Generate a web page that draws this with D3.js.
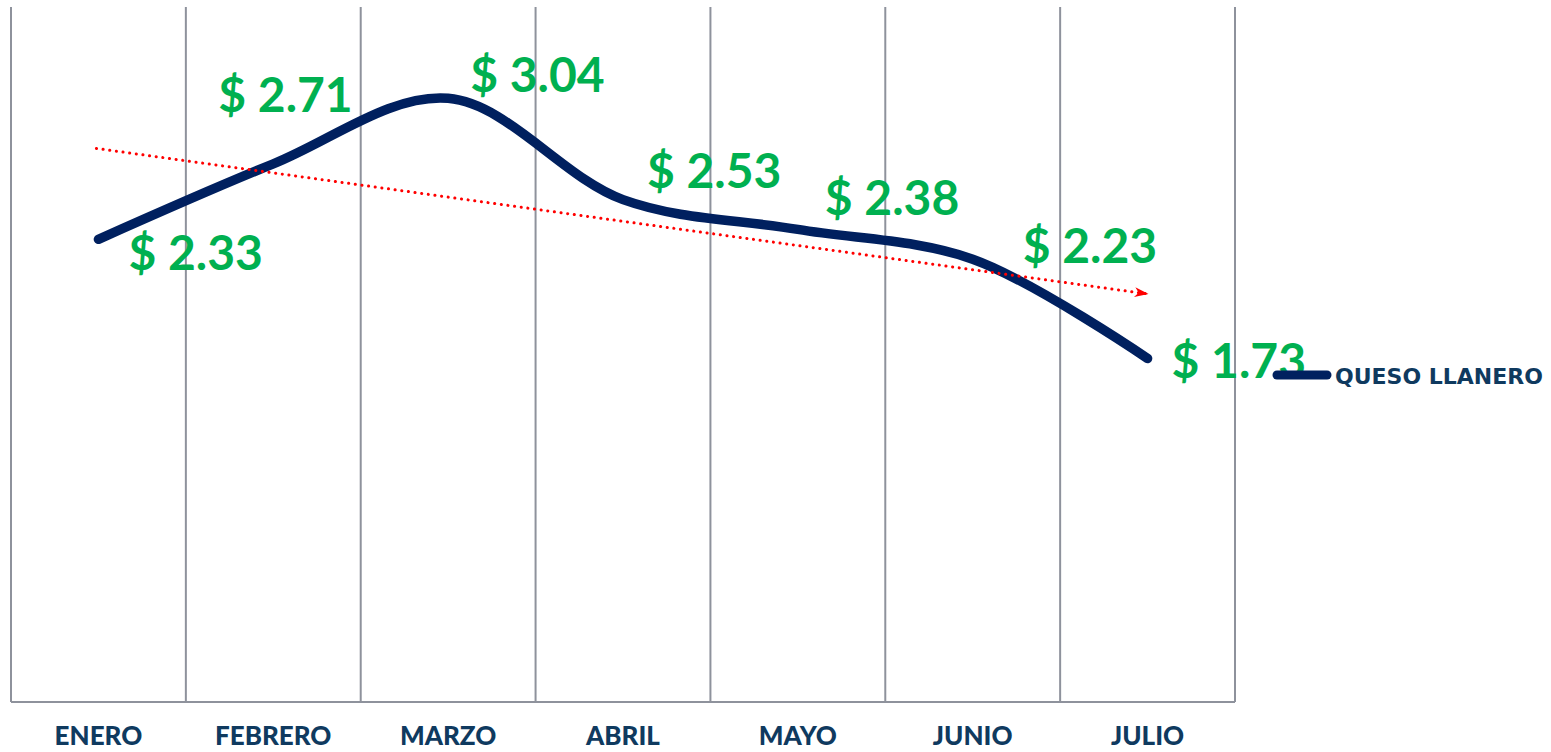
<!DOCTYPE html>
<html>
<head>
<meta charset="utf-8">
<script src="https://cdn.jsdelivr.net/npm/d3@7"></script>
<style>
  body { margin: 0; background: #fff; }
  svg { display: block; }
</style>
</head>
<body>
<svg></svg>
<script>
(function quesoChart() {
  // data
  const months = ["ENERO", "FEBRERO", "MARZO", "ABRIL", "MAYO", "JUNIO", "JULIO"];
  const prices = [2.33, 2.71, 3.04, 2.53, 2.38, 2.23, 1.73];
  const seriesName = "QUESO LLANERO";
  // where each value label sits, relative to its point
  const labelOffsets = [[30, 31], [-55, -52], [22, -6], [24, -12], [27, -14], [50, 4], [24, 20]];

  const W = 1551, H = 752;
  const svg = d3.select("svg").attr("width", W).attr("height", H);

  const x = d3.scaleBand().domain(months).range([11, 1235]);
  const y = d3.scaleLinear().domain([0, 3.5]).range([702, 7]);
  const cx = d => x(d) + x.bandwidth() / 2;

  // grid lines (category borders)
  const edges = months.map(m => x(m)).concat([x.range()[1]]);
  svg.append("g")
      .selectAll("line")
      .data(edges)
      .join("line")
      .attr("x1", d => d).attr("x2", d => d)
      .attr("y1", y(3.5)).attr("y2", y(0))
      .attr("stroke", "#8e929c")
      .attr("stroke-width", 2);
  svg.append("line")
      .attr("x1", 11).attr("x2", 1235)
      .attr("y1", y(0)).attr("y2", y(0))
      .attr("stroke", "#8e929c")
      .attr("stroke-width", 2);

  // month labels
  svg.append("g")
      .selectAll("text")
      .data(months)
      .join("text")
      .attr("x", d => cx(d))
      .attr("y", 745)
      .attr("text-anchor", "middle")
      .style("font-family", "Lato")
      .style("font-weight", "900")
      .style("font-size", "26px")
      .style("fill", "#0f3a5f")
      .text(d => d);

  const pts = months.map((m, i) => [cx(m), y(prices[i])]);

  // linear trend line
  const n = prices.length;
  const mx = d3.mean(d3.range(n)), my = d3.mean(prices);
  const slope = d3.sum(prices, (v, i) => (i - mx) * (v - my)) / d3.sum(d3.range(n), i => (i - mx) * (i - mx));
  const trend = i => my + slope * (i - mx);

  svg.append("defs").append("marker")
      .attr("id", "arrow")
      .attr("viewBox", "0 0 14 10")
      .attr("refX", 13).attr("refY", 5)
      .attr("markerWidth", 14).attr("markerHeight", 10)
      .attr("markerUnits", "userSpaceOnUse")
      .attr("orient", "auto")
      .append("path")
      .attr("d", "M0,0 L14,5 L0,10 L4,5 Z")
      .attr("fill", "#ff0000");

  // the series line
  svg.append("path")
      .datum(pts)
      .attr("d", d3.line().curve(d3.curveCatmullRom.alpha(0.5)))
      .attr("fill", "none")
      .attr("stroke", "#00205f")
      .attr("stroke-width", 9.5)
      .attr("stroke-linecap", "round")
      .attr("stroke-linejoin", "round");

  svg.append("line")
      .attr("x1", cx(months[0]) - 2).attr("y1", y(trend(0)))
      .attr("x2", cx(months[n - 1])).attr("y2", y(trend(n - 1)))
      .attr("stroke", "#ff0000")
      .attr("stroke-width", 3)
      .attr("stroke-linecap", "round")
      .attr("stroke-dasharray", "0.1,6.6")
      .attr("marker-end", "url(#arrow)");

  // value labels
  svg.append("g")
      .selectAll("text")
      .data(prices)
      .join("text")
      .attr("x", (d, i) => pts[i][0] + labelOffsets[i][0])
      .attr("y", (d, i) => pts[i][1] + labelOffsets[i][1])
      .style("font-family", "Lato")
      .style("font-weight", "700")
      .style("font-size", "48px")
      .style("fill", "#00b050")
      .text(d => "$ " + d.toFixed(2));

  // legend
  svg.append("line")
      .attr("x1", 1277).attr("x2", 1327)
      .attr("y1", 375).attr("y2", 375)
      .attr("stroke", "#00205f")
      .attr("stroke-width", 9)
      .attr("stroke-linecap", "round");
  svg.append("text")
      .attr("x", 1335)
      .attr("y", 384)
      .style("font-family", "DejaVu Sans")
      .style("font-weight", "bold")
      .style("font-size", "22px")
      .style("fill", "#0f3a5f")
      .text(seriesName);
})();
</script>
</body>
</html>
